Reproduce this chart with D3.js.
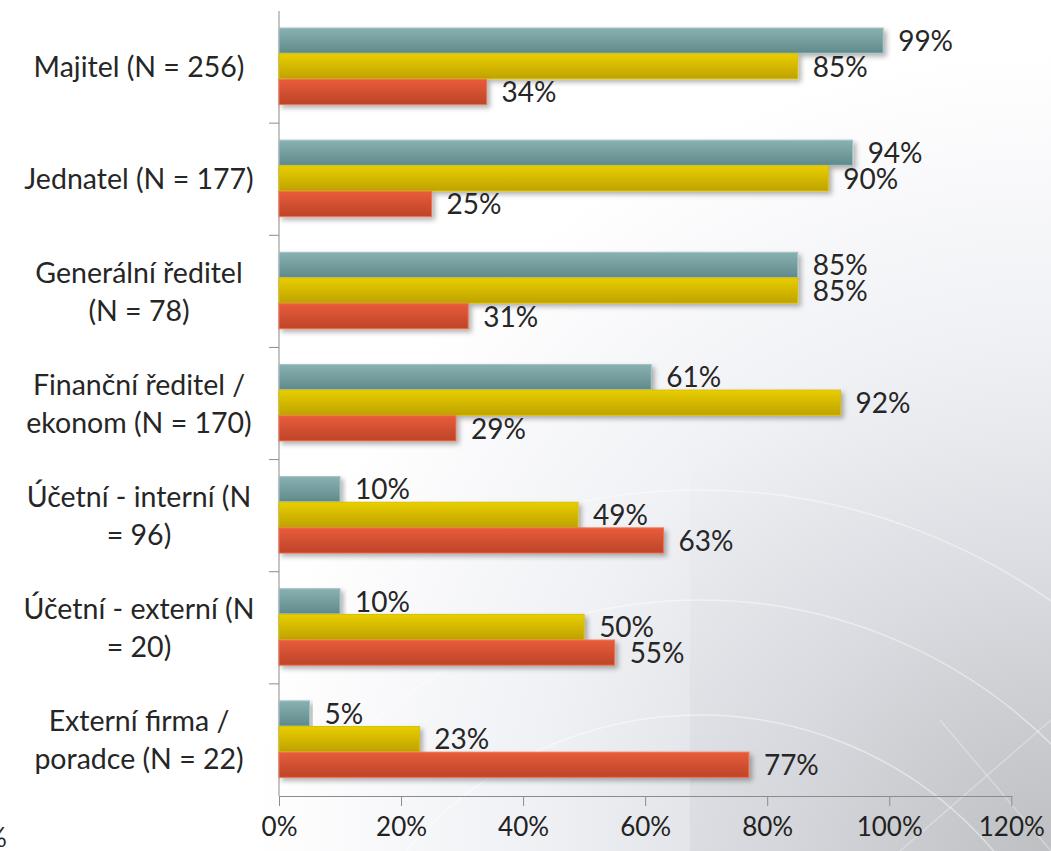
<!DOCTYPE html>
<html>
<head>
<meta charset="utf-8">
<script src="https://cdn.jsdelivr.net/npm/d3@7"></script>
<style>
  body { margin: 0; background: #fff; }
  svg { display: block; font-family: Lato, "Open Sans", sans-serif; }
</style>
</head>
<body>
<div id="chart"></div>
<script>
// data
let categories = [
  "Majitel (N = 256)",
  "Jednatel (N = 177)",
  "Generální ředitel (N = 78)",
  "Finanční ředitel / ekonom (N = 170)",
  "Účetní - interní (N = 96)",
  "Účetní - externí (N = 20)",
  "Externí firma / poradce (N = 22)"
];
// how the labels wrap in the original
let categoryLines = [
  ["Majitel (N = 256)"],
  ["Jednatel (N = 177)"],
  ["Generální ředitel", "(N = 78)"],
  ["Finanční ředitel /", "ekonom (N = 170)"],
  ["Účetní - interní (N", "= 96)"],
  ["Účetní - externí (N", "= 20)"],
  ["Externí firma /", "poradce (N = 22)"]
];
let seriesNames = ["s1", "s2", "s3"];
let valuesS1 = [99, 94, 85, 61, 10, 10, 5];
let valuesS2 = [85, 90, 85, 92, 49, 50, 23];
let valuesS3 = [34, 25, 31, 29, 63, 55, 77];
let xTicks = [0, 20, 40, 60, 80, 100, 120];

let svgWidth = 1051;
let svgHeight = 851;

let margin = { top: 11, right: 39, bottom: 55, left: 279 };
let width = svgWidth - margin.left - margin.right;
let height = svgHeight - margin.top - margin.bottom;

let svg = d3
  .select("#chart")
  .append("svg")
  .attr("width", svgWidth)
  .attr("height", svgHeight);

let defs = svg.append("defs");

// background: white fading into a light grey photo look at bottom right
let bg = defs.append("radialGradient")
  .attr("id", "bgGrad")
  .attr("gradientUnits", "userSpaceOnUse")
  .attr("cx", 1051).attr("cy", 851).attr("r", 800);
bg.append("stop").attr("offset", "0%").attr("stop-color", "#c3c4c7");
bg.append("stop").attr("offset", "35%").attr("stop-color", "#dddfe4");
bg.append("stop").attr("offset", "65%").attr("stop-color", "#f0f1f5");
bg.append("stop").attr("offset", "100%").attr("stop-color", "#ffffff");

let shade = defs.append("linearGradient")
  .attr("id", "shadeGrad")
  .attr("x1", 0).attr("y1", 0).attr("x2", 0).attr("y2", 1);
shade.append("stop").attr("offset", "0%").attr("stop-color", "#9a9ea4").attr("stop-opacity", 0);
shade.append("stop").attr("offset", "100%").attr("stop-color", "#9a9ea4").attr("stop-opacity", 0.12);

svg.append("rect")
  .attr("width", svgWidth).attr("height", svgHeight)
  .attr("fill", "url(#bgGrad)");

svg.append("rect")
  .attr("x", 690).attr("y", 430)
  .attr("width", svgWidth - 690).attr("height", svgHeight - 430)
  .attr("fill", "url(#shadeGrad)");

// faint arcs in the background image
let arcGroup = svg.append("g")
  .attr("fill", "none")
  .attr("stroke", "#ffffff")
  .attr("stroke-opacity", 0.45)
  .attr("stroke-width", 1.5);
[610, 500, 385].forEach(function(r) {
  arcGroup.append("circle").attr("cx", 700).attr("cy", 1100).attr("r", r);
});
arcGroup.append("line").attr("x1", 900).attr("y1", 851).attr("x2", 1051).attr("y2", 720)
  .attr("stroke-opacity", 0.3);
arcGroup.append("line").attr("x1", 940).attr("y1", 720).attr("x2", 1051).attr("y2", 851)
  .attr("stroke-opacity", 0.3);

// bar gradients
let palette = [
  { top: "#8ab1b2", bottom: "#5f8a8b", edge: "#a3c3c3" },
  { top: "#e8ce00", bottom: "#bfa200", edge: "#d9c000" },
  { top: "#e85c3a", bottom: "#bd4429", edge: "#f0724f" }
];
palette.forEach(function(p, i) {
  let g = defs.append("linearGradient")
    .attr("id", "barGrad" + i)
    .attr("x1", 0).attr("y1", 0).attr("x2", 0).attr("y2", 1);
  g.append("stop").attr("offset", "0%").attr("stop-color", p.top);
  g.append("stop").attr("offset", "100%").attr("stop-color", p.bottom);
});

let shadow = defs.append("filter")
  .attr("id", "shadow")
  .attr("x", "-5%").attr("y", "-20%").attr("width", "115%").attr("height", "160%");
shadow.append("feDropShadow")
  .attr("dx", 3).attr("dy", 3).attr("stdDeviation", 2.5)
  .attr("flood-color", "#000").attr("flood-opacity", 0.3);

let chartGroup = svg
  .append("g")
  .attr("transform", `translate(${margin.left}, ${margin.top})`);

// scales
let xLinearScale = d3.scaleLinear().domain([0, 120]).range([0, width - 0.7]);

let yBand = d3.scaleBand()
  .domain(categories)
  .range([0, height])
  .padding(0);

let ySub = d3.scaleBand()
  .domain(seriesNames)
  .range([17, 94])
  .padding(0);

// x axis
let bottomAxis = d3.axisBottom(xLinearScale)
  .tickValues(xTicks)
  .tickSize(10)
  .tickSizeOuter(0)
  .tickPadding(12)
  .tickFormat(d => d + "%");

let xAxis = chartGroup.append("g")
  .attr("transform", `translate(0, ${height})`)
  .call(bottomAxis);

xAxis.selectAll("path, line").attr("stroke", "#8c8c8c");
xAxis.selectAll("text")
  .attr("font-size", 26)
  .attr("fill", "#222")
  .style("font-family", "Lato, 'Open Sans', sans-serif");

// y axis line and boundary ticks
chartGroup.append("line")
  .attr("x1", 0).attr("x2", 0)
  .attr("y1", 0).attr("y2", height)
  .attr("stroke", "#8c8c8c");

let boundaries = categories.slice(1).map(c => yBand(c));
chartGroup.selectAll(".ytick")
  .data(boundaries)
  .enter()
  .append("line")
  .attr("class", "ytick")
  .attr("x1", -10).attr("x2", 0)
  .attr("y1", d => d).attr("y2", d => d)
  .attr("stroke", "#8c8c8c");

// bars
let seriesValues = [valuesS1, valuesS2, valuesS3];
let barData = [];
categories.forEach(function(c, i) {
  seriesNames.forEach(function(s, j) {
    barData.push({ cat: c, series: s, idx: j, value: seriesValues[j][i] });
  });
});

chartGroup.selectAll(".bar")
  .data(barData)
  .enter()
  .append("rect")
  .attr("class", "bar")
  .attr("x", 0)
  .attr("y", d => yBand(d.cat) + ySub(d.series))
  .attr("width", d => xLinearScale(d.value))
  .attr("height", ySub.bandwidth() - 0.5)
  .attr("fill", d => `url(#barGrad${d.idx})`)
  .attr("stroke", d => palette[d.idx].edge)
  .attr("stroke-width", 1)
  .attr("filter", "url(#shadow)");

// value labels
chartGroup.selectAll(".valueLabel")
  .data(barData)
  .enter()
  .append("text")
  .attr("class", "valueLabel")
  .attr("x", d => xLinearScale(d.value) + 15)
  .attr("y", d => yBand(d.cat) + ySub(d.series) + ySub.bandwidth() / 2)
  .attr("dy", "0.36em")
  .attr("font-size", 28)
  .attr("fill", "#262626")
  .text(d => d.value + "%");

// category labels
let labelGroup = chartGroup.selectAll(".catLabel")
  .data(categories)
  .enter()
  .append("text")
  .attr("class", "catLabel")
  .attr("text-anchor", "middle")
  .attr("font-size", 28.5)
  .attr("fill", "#262626");

labelGroup.each(function(c, i) {
  let lines = categoryLines[i];
  let center = yBand(c) + yBand.bandwidth() / 2;
  let lineHeight = 38;
  let first = center - (lines.length - 1) * lineHeight / 2;
  let t = d3.select(this);
  lines.forEach(function(line, k) {
    t.append("tspan")
      .attr("x", -140)
      .attr("y", first + k * lineHeight)
      .attr("dy", "0.36em")
      .text(line);
  });
});

// clipped tick label remnant at far left edge
svg.append("text")
  .attr("x", -14)
  .attr("y", 847)
  .attr("font-size", 26)
  .attr("fill", "#262626")
  .text("%");
</script>
</body>
</html>
